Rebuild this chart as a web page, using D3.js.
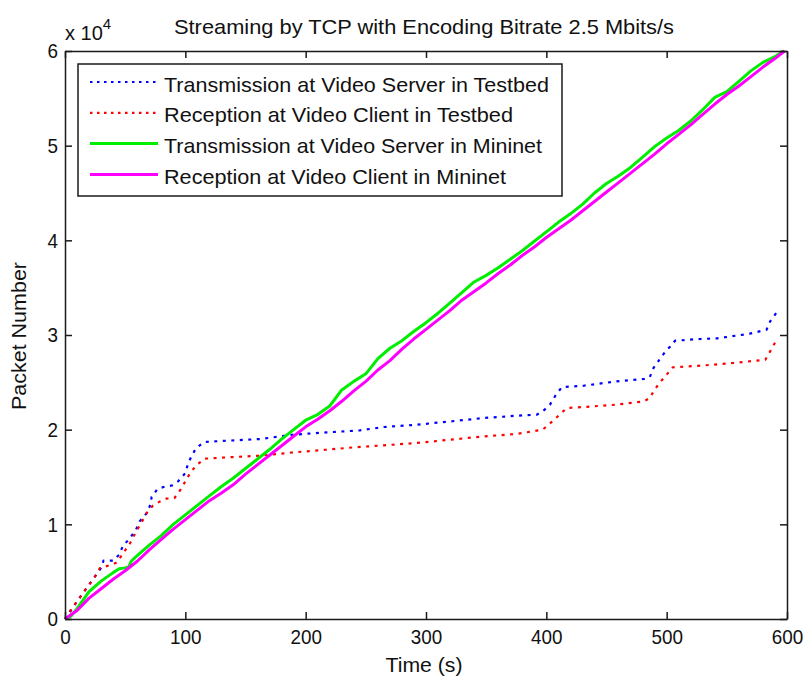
<!DOCTYPE html>
<html><head><meta charset="utf-8">
<script src="https://cdn.jsdelivr.net/npm/d3@7"></script>
<style>
body{margin:0;background:#fff}
text{font-family:"Liberation Sans",Arial,Helvetica,sans-serif;fill:#111}
</style>
</head><body>
<svg id="chart" width="806" height="680"></svg>
<script>
// ---------- data ----------
const chartTitle = "Streaming by TCP with Encoding Bitrate 2.5 Mbits/s";
const xLabel = "Time (s)";
const yLabel = "Packet Number";
const xTicks = [0, 100, 200, 300, 400, 500, 600];
const yTicks = [0, 10000, 20000, 30000, 40000, 50000, 60000];
const yTickLabels = ["0", "1", "2", "3", "4", "5", "6"];
const seriesNames = [
  "Transmission at Video Server in Testbed",
  "Reception at Video Client in Testbed",
  "Transmission at Video Server in Mininet",
  "Reception at Video Client in Mininet"
];
const seriesColors = ["#0000ff", "#ff0000", "#00ee00", "#ff00ff"];

// [time (s), packet number]
const txTestbed = [[0,0],[5,900],[10,1860],[15,2750],[20,3620],[25,4500],[30,5390],[32,6160],[40,6160],[45,6790],[48,7670],[54,8560],[59,9430],[62,10310],[68,11200],[71,12070],[72,12890],[77,13760],[82,13940],[89,14110],[94,14540],[100,15420],[102,16300],[105,17180],[109,18060],[116,18700],[134,18830],[162,19010],[190,19470],[217,19710],[245,19920],[265,20280],[292,20520],[320,20870],[348,21230],[375,21470],[392,21580],[397,21930],[403,22640],[408,23690],[413,24500],[431,24640],[458,25100],[481,25350],[486,25560],[489,26510],[494,27390],[499,28270],[503,28790],[507,29400],[528,29580],[542,29640],[569,30140],[583,30560],[586,31440],[591,32320]];
const rxTestbed = [[0,0],[5,980],[10,1860],[15,2750],[20,3620],[25,4500],[29,5390],[39,5740],[43,5980],[48,6900],[54,8000],[60,9430],[64,10300],[68,11220],[73,11970],[79,12420],[84,12710],[91,12780],[96,13660],[100,14540],[104,15420],[109,16220],[116,16930],[134,17070],[162,17250],[190,17600],[217,17880],[240,18130],[264,18340],[292,18590],[320,18940],[348,19290],[375,19540],[397,20000],[404,20770],[411,21580],[417,22290],[431,22390],[458,22640],[481,22990],[486,23340],[489,24040],[494,24930],[500,25810],[505,26580],[528,26760],[555,27040],[582,27390],[586,28270],[591,29400]];
const txMininet = [[0,0],[5,300],[10,1100],[20,2900],[30,4000],[40,4900],[45,5300],[50,5400],[53,5500],[55,6100],[60,6700],[70,7800],[80,8800],[90,10000],[100,11000],[110,12000],[120,13000],[130,14000],[140,14900],[150,15900],[160,16900],[170,17900],[180,19000],[190,20000],[200,21000],[210,21600],[220,22500],[230,24200],[240,25100],[250,25900],[260,27500],[270,28600],[280,29400],[290,30400],[300,31300],[310,32300],[320,33400],[330,34500],[340,35600],[350,36300],[360,37100],[370,38000],[380,38900],[390,39900],[400,40900],[410,41900],[420,42800],[430,43800],[440,45000],[450,46000],[460,46800],[470,47700],[480,48800],[490,49900],[500,50800],[510,51600],[520,52600],[530,53800],[540,55100],[550,55700],[560,56800],[570,57900],[580,58800],[590,59400],[597,60000]];
const rxMininet = [[0,0],[10,900],[20,2200],[30,3200],[40,4200],[50,5100],[60,6100],[70,7300],[80,8400],[90,9500],[100,10500],[110,11500],[120,12500],[130,13300],[140,14200],[150,15300],[160,16300],[170,17300],[180,18300],[190,19300],[200,20300],[210,21100],[220,22000],[230,23000],[240,24100],[250,25100],[260,26300],[270,27300],[280,28500],[290,29600],[300,30600],[310,31600],[320,32600],[330,33700],[340,34600],[350,35500],[360,36500],[370,37400],[380,38400],[390,39300],[400,40300],[410,41200],[420,42100],[430,43100],[440,44100],[450,45100],[460,46100],[470,47100],[480,48100],[490,49100],[500,50200],[510,51200],[520,52200],[530,53300],[540,54400],[550,55400],[560,56300],[570,57300],[580,58300],[590,59200],[598,60000]];

const seriesData = [txTestbed, rxTestbed, txMininet, rxMininet];
const seriesDotted = [true, true, false, false];

// ---------- layout ----------
const svg = d3.select("#chart");
const L = 65, R = 787, T = 51, B = 619;
const x = d3.scaleLinear().domain([0, 600]).range([L, R]);
const y = d3.scaleLinear().domain([0, 60000]).range([B, T]);
const axisColor = "#1a1a1a";

svg.append("rect").attr("width", 806).attr("height", 680).attr("fill", "#fff");

// lines
const line = d3.line().x(d => x(d[0])).y(d => y(d[1]));
seriesData.forEach((s, i) => {
  svg.append("path").datum(s)
    .attr("d", line)
    .attr("fill", "none")
    .attr("stroke", seriesColors[i])
    .attr("stroke-width", seriesDotted[i] ? 2.2 : 3)
    .attr("stroke-dasharray", seriesDotted[i] ? "3,5.5" : null)
    .attr("stroke-linejoin", "round");
});

// axes
function styleAxis(g) {
  g.selectAll("path,line").attr("stroke", axisColor).attr("stroke-width", 1.5);
  g.selectAll("text").attr("fill", "#111").attr("font-size", 21)
    .attr("font-family", "Liberation Sans, Arial, sans-serif")
    .each(function(){ const t = d3.select(this); const n = t.text().length; t.attr("textLength", n*10.5).attr("lengthAdjust","spacingAndGlyphs"); });
}
svg.append("g").attr("transform", `translate(0,${B})`)
  .call(d3.axisBottom(x).tickValues(xTicks).tickFormat(d3.format("d")).tickSizeInner(-7).tickSizeOuter(0).tickPadding(10))
  .call(styleAxis);
svg.append("g").attr("transform", `translate(0,${T})`)
  .call(d3.axisTop(x).tickValues(xTicks).tickFormat("").tickSizeInner(-7).tickSizeOuter(0))
  .call(styleAxis);
svg.append("g").attr("transform", `translate(${L},0)`)
  .call(d3.axisLeft(y).tickValues(yTicks).tickFormat((d, i) => yTickLabels[i]).tickSizeInner(-7).tickSizeOuter(0).tickPadding(7))
  .call(styleAxis);
svg.append("g").attr("transform", `translate(${R},0)`)
  .call(d3.axisRight(y).tickValues(yTicks).tickFormat("").tickSizeInner(-7).tickSizeOuter(0))
  .call(styleAxis);
svg.selectAll(".domain").attr("fill", "none");

// exponent label
const ex = svg.append("text").attr("x", 65).attr("y", 40).attr("font-size", 20);
ex.append("tspan").text("x 10");
ex.append("tspan").attr("dy", -11).attr("font-size", 15).text("4");

// title & labels
svg.append("text").attr("x", 424).attr("y", 34).attr("text-anchor", "middle")
  .attr("font-size", 21).attr("textLength", 500).attr("lengthAdjust", "spacingAndGlyphs").text(chartTitle);
svg.append("text").attr("x", 424).attr("y", 672).attr("text-anchor", "middle")
  .attr("font-size", 21).attr("textLength", 77).attr("lengthAdjust", "spacingAndGlyphs").text(xLabel);
svg.append("text").attr("transform", "translate(26,336) rotate(-90)").attr("text-anchor", "middle")
  .attr("font-size", 20).attr("textLength", 148).attr("lengthAdjust", "spacingAndGlyphs").text(yLabel);

// legend
const legendWidths = [385, 349, 378, 342];
const lg = svg.append("g");
lg.append("rect").attr("x", 78).attr("y", 64).attr("width", 484).attr("height", 132)
  .attr("fill", "#fff").attr("stroke", axisColor).attr("stroke-width", 1.5);
seriesNames.forEach((name, i) => {
  const cy = 82 + i * 30.8;
  lg.append("line").attr("x1", 90).attr("x2", 158).attr("y1", cy).attr("y2", cy)
    .attr("stroke", seriesColors[i])
    .attr("stroke-width", seriesDotted[i] ? 2.2 : 3)
    .attr("stroke-dasharray", seriesDotted[i] ? "2.5,4.5" : null);
  lg.append("text").attr("x", 164).attr("y", cy + 9.5).attr("font-size", 21)
    .attr("textLength", legendWidths[i]).attr("lengthAdjust", "spacingAndGlyphs").text(name);
});
</script>
</body></html>
